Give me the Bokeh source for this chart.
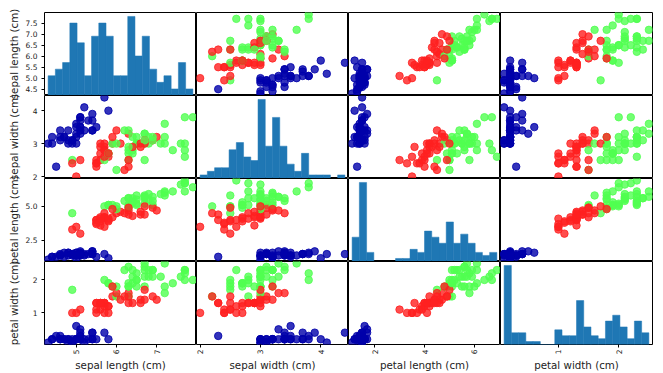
import math
import numpy as np
from bokeh.plotting import figure
from bokeh.layouts import gridplot, row, column
from bokeh.models import Range1d, FixedTicker, ColumnDataSource, CustomJSTickFormatter
from bokeh.core.properties import value
from bokeh.embed import file_html
from bokeh.resources import INLINE

feature_names = ["sepal length (cm)", "sepal width (cm)", "petal length (cm)", "petal width (cm)"]

iris_sepal_length = [
    5.1, 4.9, 4.7, 4.6, 5.0, 5.4, 4.6, 5.0, 4.4, 4.9, 5.4, 4.8, 4.8, 4.3, 5.8, 5.7, 5.4, 5.1, 5.7, 5.1,
    5.4, 5.1, 4.6, 5.1, 4.8, 5.0, 5.0, 5.2, 5.2, 4.7, 4.8, 5.4, 5.2, 5.5, 4.9, 5.0, 5.5, 4.9, 4.4, 5.1,
    5.0, 4.5, 4.4, 5.0, 5.1, 4.8, 5.1, 4.6, 5.3, 5.0,
    7.0, 6.4, 6.9, 5.5, 6.5, 5.7, 6.3, 4.9, 6.6, 5.2, 5.0, 5.9, 6.0, 6.1, 5.6, 6.7, 5.6, 5.8, 6.2, 5.6,
    5.9, 6.1, 6.3, 6.1, 6.4, 6.6, 6.8, 6.7, 6.0, 5.7, 5.5, 5.5, 5.8, 6.0, 5.4, 6.0, 6.7, 6.3, 5.6, 5.5,
    5.5, 6.1, 5.8, 5.0, 5.6, 5.7, 5.7, 6.2, 5.1, 5.7,
    6.3, 5.8, 7.1, 6.3, 6.5, 7.6, 4.9, 7.3, 6.7, 7.2, 6.5, 6.4, 6.8, 5.7, 5.8, 6.4, 6.5, 7.7, 7.7, 6.0,
    6.9, 5.6, 7.7, 6.3, 6.7, 7.2, 6.2, 6.1, 6.4, 7.2, 7.4, 7.9, 6.4, 6.3, 6.1, 7.7, 6.3, 6.4, 6.0, 6.9,
    6.7, 6.9, 5.8, 6.8, 6.7, 6.7, 6.3, 6.5, 6.2, 5.9]
iris_sepal_width = [
    3.5, 3.0, 3.2, 3.1, 3.6, 3.9, 3.4, 3.4, 2.9, 3.1, 3.7, 3.4, 3.0, 3.0, 4.0, 4.4, 3.9, 3.5, 3.8, 3.8,
    3.4, 3.7, 3.6, 3.3, 3.4, 3.0, 3.4, 3.5, 3.4, 3.2, 3.1, 3.4, 4.1, 4.2, 3.1, 3.2, 3.5, 3.6, 3.0, 3.4,
    3.5, 2.3, 3.2, 3.5, 3.8, 3.0, 3.8, 3.2, 3.7, 3.3,
    3.2, 3.2, 3.1, 2.3, 2.8, 2.8, 3.3, 2.4, 2.9, 2.7, 2.0, 3.0, 2.2, 2.9, 2.9, 3.1, 3.0, 2.7, 2.2, 2.5,
    3.2, 2.8, 2.5, 2.8, 2.9, 3.0, 2.8, 3.0, 2.9, 2.6, 2.4, 2.4, 2.7, 2.7, 3.0, 3.4, 3.1, 2.3, 3.0, 2.5,
    2.6, 3.0, 2.6, 2.3, 2.7, 3.0, 2.9, 2.9, 2.5, 2.8,
    3.3, 2.7, 3.0, 2.9, 3.0, 3.0, 2.5, 2.9, 2.5, 3.6, 3.2, 2.7, 3.0, 2.5, 2.8, 3.2, 3.0, 3.8, 2.6, 2.2,
    3.2, 2.8, 2.8, 2.7, 3.3, 3.2, 2.8, 3.0, 2.8, 3.0, 2.8, 3.8, 2.8, 2.8, 2.6, 3.0, 3.4, 3.1, 3.0, 3.1,
    3.1, 3.1, 2.7, 3.2, 3.3, 3.0, 2.5, 3.0, 3.4, 3.0]
iris_petal_length = [
    1.4, 1.4, 1.3, 1.5, 1.4, 1.7, 1.4, 1.5, 1.4, 1.5, 1.5, 1.6, 1.4, 1.1, 1.2, 1.5, 1.3, 1.4, 1.7, 1.5,
    1.7, 1.5, 1.0, 1.7, 1.9, 1.6, 1.6, 1.5, 1.4, 1.6, 1.6, 1.5, 1.5, 1.4, 1.5, 1.2, 1.3, 1.4, 1.3, 1.5,
    1.3, 1.3, 1.3, 1.6, 1.9, 1.4, 1.6, 1.4, 1.5, 1.4,
    4.7, 4.5, 4.9, 4.0, 4.6, 4.5, 4.7, 3.3, 4.6, 3.9, 3.5, 4.2, 4.0, 4.7, 3.6, 4.4, 4.5, 4.1, 4.5, 3.9,
    4.8, 4.0, 4.9, 4.7, 4.3, 4.4, 4.8, 5.0, 4.5, 3.5, 3.8, 3.7, 3.9, 5.1, 4.5, 4.5, 4.7, 4.4, 4.1, 4.0,
    4.4, 4.6, 4.0, 3.3, 4.2, 4.2, 4.2, 4.3, 3.0, 4.1,
    6.0, 5.1, 5.9, 5.6, 5.8, 6.6, 4.5, 6.3, 5.8, 6.1, 5.1, 5.3, 5.5, 5.0, 5.1, 5.3, 5.5, 6.7, 6.9, 5.0,
    5.7, 4.9, 6.7, 4.9, 5.7, 6.0, 4.8, 4.9, 5.6, 5.8, 6.1, 6.4, 5.6, 5.1, 5.6, 6.1, 5.6, 5.5, 4.8, 5.4,
    5.6, 5.1, 5.1, 5.9, 5.7, 5.2, 5.0, 5.2, 5.4, 5.1]
iris_petal_width = [
    0.2, 0.2, 0.2, 0.2, 0.2, 0.4, 0.3, 0.2, 0.2, 0.1, 0.2, 0.2, 0.1, 0.1, 0.2, 0.4, 0.4, 0.3, 0.3, 0.3,
    0.2, 0.4, 0.2, 0.5, 0.2, 0.2, 0.4, 0.2, 0.2, 0.2, 0.2, 0.4, 0.1, 0.2, 0.1, 0.2, 0.2, 0.1, 0.2, 0.2,
    0.3, 0.3, 0.2, 0.6, 0.4, 0.3, 0.2, 0.2, 0.2, 0.2,
    1.4, 1.5, 1.5, 1.3, 1.5, 1.3, 1.6, 1.0, 1.3, 1.4, 1.0, 1.5, 1.0, 1.4, 1.3, 1.4, 1.5, 1.0, 1.5, 1.1,
    1.8, 1.3, 1.5, 1.2, 1.3, 1.4, 1.4, 1.7, 1.5, 1.0, 1.1, 1.0, 1.2, 1.6, 1.5, 1.6, 1.5, 1.3, 1.3, 1.3,
    1.2, 1.4, 1.2, 1.0, 1.3, 1.2, 1.3, 1.3, 1.1, 1.3,
    2.5, 1.9, 2.1, 1.8, 2.2, 2.1, 1.7, 1.8, 1.8, 2.5, 2.0, 1.9, 2.1, 2.0, 2.4, 2.3, 1.8, 2.2, 2.3, 1.5,
    2.3, 2.0, 2.0, 1.8, 2.1, 1.8, 1.8, 1.8, 2.1, 1.6, 1.9, 2.0, 2.2, 1.5, 1.4, 2.3, 2.4, 1.8, 1.8, 2.1,
    2.4, 2.3, 1.9, 2.3, 2.5, 2.3, 1.9, 2.0, 2.3, 1.8]
iris_species = [0] * 50 + [1] * 50 + [2] * 50

# rows of the iris data that appear in the chart (training split), in plotting order
train_rows = [61, 92, 112, 2, 141, 43, 10, 60, 116, 144, 119, 108, 69, 135, 56, 80, 123, 133, 106, 146,
              50, 147, 85, 30, 101, 94, 64, 89, 91, 125, 48, 13, 111, 95, 20, 15, 52, 3, 149, 98,
              6, 68, 109, 96, 12, 102, 120, 104, 128, 46, 11, 110, 124, 41, 148, 1, 113, 139, 42, 4,
              129, 17, 38, 5, 53, 143, 105, 0, 34, 28, 55, 75, 35, 23, 74, 31, 118, 57, 131, 65,
              32, 138, 14, 122, 19, 29, 130, 49, 136, 99, 82, 79, 115, 145, 72, 77, 25, 81, 140, 142,
              39, 58, 88, 70, 87, 36, 21, 9, 103, 67, 117, 47]

species_colors = ["#0000aa", "#ff2020", "#50ff50"]
hist_color = "#1f77b4"

y_tick_values = [[4.5, 5.0, 5.5, 6.0, 6.5, 7.0, 7.5], [2, 3, 4], [2.5, 5.0], [1, 2]]
y_tick_labels = [["4.5", "5.0", "5.5", "6.0", "6.5", "7.0", "7.5"], ["2", "3", "4"], ["2.5", "5.0"], ["1", "2"]]
x_tick_values = [[5, 6, 7], [2, 3, 4], [2, 4, 6], [1, 2]]

columns = [iris_sepal_length, iris_sepal_width, iris_petal_length, iris_petal_width]
data = [[columns[k][r] for r in train_rows] for k in range(4)]
colors = [species_colors[iris_species[r]] for r in train_rows]

bounds = []
for k in range(4):
    lo, hi = min(data[k]), max(data[k])
    ext = (hi - lo) * 0.05 / 2
    bounds.append((lo - ext, hi + ext))

SW = 38                    # strip holding the row labels and the left tick labels
XL = 15                    # strip holding the column labels
L, R, T, B = 6, 8, 12, 12
CW, CH = 152, 83
GRID_H = T + 4 * CH + B
GRID_W = L + 4 * CW + R
FONT = "DejaVu Sans"
TEXT_COLOR = "#222222"
LABEL_SIZE = "10.3px"
TICK_SIZE = "7.5px"

src = ColumnDataSource(dict(c0=data[0], c1=data[1], c2=data[2], c3=data[3], color=colors))

rows = []
for i in range(4):
    prow = []
    for j in range(4):
        counts, edges = None, None
        if i == j:
            counts, edges = np.histogram(data[i], bins=20)
        if i == j and i != 0:
            yr = Range1d(0, counts.max() * 1.05)
        else:
            yr = Range1d(*bounds[i])
        p = figure(frame_width=CW, frame_height=CH, x_range=Range1d(*bounds[j]), y_range=yr,
                   output_backend="svg", toolbar_location=None,
                   x_axis_location="below" if i == 3 else None,
                   y_axis_location="left" if j == 0 else None,
                   min_border_left=L if j == 0 else 0, min_border_right=R if j == 3 else 0,
                   min_border_top=T if i == 0 else 0, min_border_bottom=B if i == 3 else 0)
        p.grid.visible = False
        p.outline_line_color = "black"
        p.outline_line_width = 1
        p.background_fill_color = "white"
        p.border_fill_color = "white"
        if i == j:
            if i == 0:
                p.extra_y_ranges = {"hist": Range1d(0, counts.max() * 1.05)}
                rn = "hist"
            else:
                rn = "default"
            p.quad(left=edges[:-1], right=edges[1:], top=counts, bottom=0,
                   fill_color=hist_color, line_color=hist_color, line_width=0.5, y_range_name=rn)
        else:
            p.scatter(x="c%d" % j, y="c%d" % i, source=src, size=7.5,
                      fill_color="color", line_color="color", fill_alpha=0.8, line_alpha=0.8, line_width=1)
        for ax in p.xaxis:
            ax.ticker = FixedTicker(ticks=x_tick_values[j])
            ax.major_label_orientation = math.pi / 2
        for ax in p.yaxis:
            # tick marks stay on the axis; their labels are drawn in the strip on the left,
            # where they may run past the row edge as in the reference
            ax.ticker = FixedTicker(ticks=y_tick_values[i])
            ax.formatter = CustomJSTickFormatter(code="return '';")
            ax.major_label_standoff = 0
        for ax in list(p.xaxis) + list(p.yaxis):
            ax.axis_line_color = None
            ax.major_tick_out = 3
            ax.major_tick_in = 0
            ax.minor_tick_line_color = None
            ax.major_tick_line_color = "black"
            ax.major_label_text_font = FONT
            ax.major_label_text_font_size = TICK_SIZE
            ax.major_label_text_color = TEXT_COLOR
        for ax in p.xaxis:
            ax.major_label_standoff = 2
        prow.append(p)
    rows.append(prow)

grid = gridplot(rows, toolbar_location=None)


def strip(width, height):
    s = figure(width=width, height=height, x_range=Range1d(0, width), y_range=Range1d(0, height),
               output_backend="svg", toolbar_location=None,
               x_axis_location=None, y_axis_location=None, min_border=0)
    s.grid.visible = False
    s.outline_line_color = None
    s.border_fill_color = "white"
    s.background_fill_color = "white"
    return s


ylab = strip(SW, GRID_H)
# one y range per row, scaled so that the row's data range falls on that row's band
for i in range(4):
    lo, hi = bounds[i]
    per_px = (hi - lo) / CH
    above = T + CH * i
    below = GRID_H - (T + CH * (i + 1))
    ylab.extra_y_ranges["r%d" % i] = Range1d(lo - below * per_px, hi + above * per_px)
    ylab.text(x=[SW - 1] * len(y_tick_values[i]), y=y_tick_values[i], text=y_tick_labels[i],
              y_range_name="r%d" % i, text_align="right", text_baseline="middle",
              text_font=value(FONT), text_font_size=TICK_SIZE, text_color=TEXT_COLOR)
ylab.text(x=[13] * 4, y=[GRID_H - (T + CH * (k + 0.5)) for k in range(4)], text=feature_names,
          angle=math.pi / 2, text_align="center", text_baseline="middle",
          text_font=value(FONT), text_font_size=LABEL_SIZE, text_color=TEXT_COLOR)

# column labels below the grid
xlab = strip(SW + GRID_W, XL)
xlab.text(x=[SW + L + CW * (k + 0.5) for k in range(4)], y=[XL / 2] * 4, text=feature_names,
          text_align="center", text_baseline="middle",
          text_font=value(FONT), text_font_size=LABEL_SIZE, text_color=TEXT_COLOR)

layout = column(row(ylab, grid), xlab)
open("out.html", "w").write(file_html(layout, INLINE))
